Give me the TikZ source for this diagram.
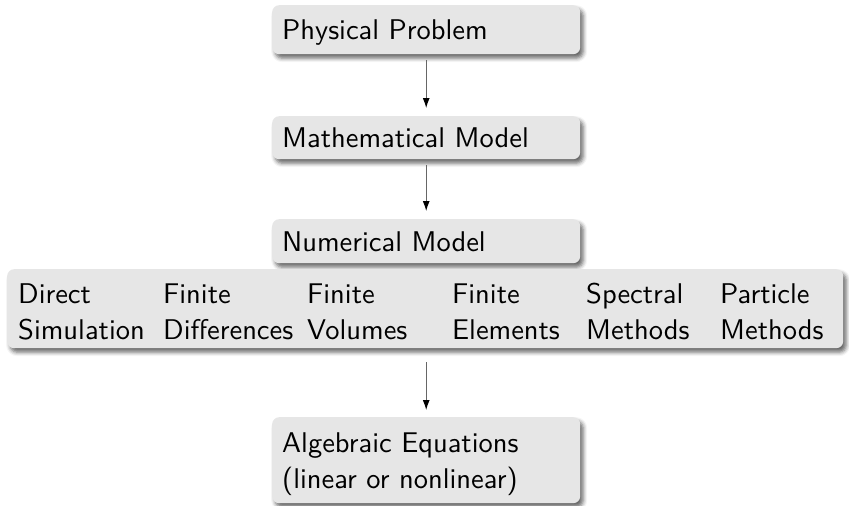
\documentclass[tikz,border=0pt]{standalone}
\usepackage{fontspec}
\setsansfont{lmsans10-regular.otf}
\usetikzlibrary{arrows.meta,shadows.blur}
\definecolor{boxfill}{HTML}{E6E6E6}
\tikzset{
  boxshadow/.style={blur shadow={shadow xshift=3pt, shadow yshift=-4pt, shadow blur radius=4pt, shadow opacity=60}},
  stepbox/.style={boxshadow, fill=boxfill, rounded corners=7pt, anchor=north west,
    text width=288pt, inner xsep=10pt, inner ysep=0pt, align=left, text depth=0pt},
  widebox/.style={boxshadow, fill=boxfill, rounded corners=7pt, anchor=north west,
    minimum width=836pt, minimum height=79pt, inner sep=0pt},
  coltext/.style={anchor=base west, inner sep=0pt, align=left},
  arr/.style={draw=black!60, line width=1pt, -{Latex[length=10pt,width=7pt,color=black]}}
}
\begin{document}
\begin{tikzpicture}[x=1pt,y=-1pt,font=\sffamily\fontsize{28.5}{36}\selectfont]
\useasboundingbox (0,0) rectangle (849,506);
\node[stepbox, minimum height=49pt] (b1) at (272,5) {Physical Problem};
\node[stepbox, minimum height=43pt] (b2) at (272,116) {Mathematical Model};
\node[stepbox, minimum height=44pt] (b3) at (272,219) {Numerical Model};
\node[widebox] (methods) at (7,269) {};
\node[coltext] (c1) at (18,339) {Direct\\Simulation};
\node[coltext] (c2) at (163,339) {Finite\\Differences};
\node[coltext] (c3) at (307,339) {Finite\\Volumes};
\node[coltext] (c4) at (452,339) {Finite\\Elements};
\node[coltext] (c5) at (586,339) {Spectral\\Methods};
\node[coltext] (c6) at (720,339) {Particle\\Methods};
\node[stepbox, minimum height=86pt, text depth=35pt] (b4) at (272,417) {Algebraic Equations\\(linear or nonlinear)};
\draw[arr, shorten <=6pt, shorten >=8pt] (b1.south) -- (b2.north);
\draw[arr, shorten <=6pt, shorten >=8pt] (b2.south) -- (b3.north);
\draw[arr, shorten <=14pt, shorten >=7pt] (methods.south -| b4.north) -- (b4.north);
\end{tikzpicture}
\end{document}
